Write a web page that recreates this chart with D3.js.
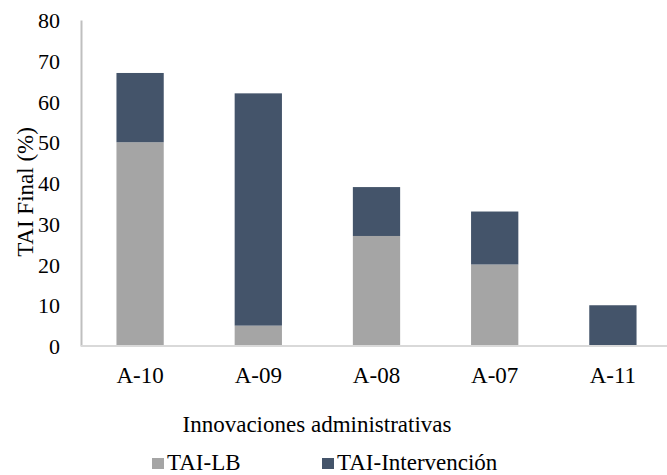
<!DOCTYPE html>
<html>
<head>
<meta charset="utf-8">
<script src="https://cdn.jsdelivr.net/npm/d3@7"></script>
<style>
  body { margin: 0; background: #fff; }
</style>
</head>
<body>
<div id="chart"></div>
<script>
const categories = ["A-10", "A-09", "A-08", "A-07", "A-11"]
const seriesNames = ["TAI-LB", "TAI-Intervención"]
const lbValues = [50, 5, 27, 20, 0]
const intervValues = [17, 57, 12, 13, 10]
const yTicks = [0, 10, 20, 30, 40, 50, 60, 70, 80]
const colors = ["#a5a5a5", "#44546a"]

const width = 667, height = 475
const plotLeft = 81, plotTop = 20, plotBottom = 346
const fontName = "Liberation Serif"

const svg = d3.select("#chart")
    .append("svg")
    .attr("width", width)
    .attr("height", height)

let xScale = d3.scaleBand()
    .domain(categories)
    .range([plotLeft, plotLeft + 5 * 118.2])
    .paddingInner(0.6)
    .paddingOuter(0.3)

let yScale = d3.scaleLinear()
    .domain([0, 80])
    .range([plotBottom, plotTop])

// stack the two series
const rows = categories.map((c, i) => ({cat: c, "TAI-LB": lbValues[i], "TAI-Intervención": intervValues[i]}))
const stacked = d3.stack().keys(seriesNames)(rows)

svg.selectAll("g.series")
    .data(stacked)
    .enter()
    .append("g")
    .attr("fill", (d, i) => colors[i])
    .selectAll("rect")
    .data(d => d)
    .enter()
    .append("rect")
    .attr("x", d => xScale(d.data.cat))
    .attr("y", d => yScale(d[1]))
    .attr("width", xScale.bandwidth())
    .attr("height", d => yScale(d[0]) - yScale(d[1]))

// axes
let yAxis = d3.axisLeft(yScale).tickValues(yTicks).tickSize(0).tickPadding(21)
const gy = svg.append("g").attr("transform", "translate(" + plotLeft + ",0)").call(yAxis)
gy.select(".domain").attr("stroke", "#bfbfbf").attr("stroke-width", 2)
gy.selectAll("text").attr("dy", "0.35em").attr("fill", "#000")

let xAxis = d3.axisBottom(xScale).tickSize(0).tickPadding(21)
const gx = svg.append("g").attr("transform", "translate(0," + plotBottom + ")").call(xAxis)
gx.select(".domain").remove()
gx.append("line")
    .attr("x1", plotLeft).attr("x2", width)
    .attr("y1", 0).attr("y2", 0)
    .attr("stroke", "#d9d9d9").attr("stroke-width", 2)
gx.selectAll("text").attr("fill", "#000")

// axis titles
svg.append("text")
    .attr("x", 317).attr("y", 432)
    .attr("text-anchor", "middle")
    .text("Innovaciones administrativas")

svg.append("text")
    .attr("transform", "translate(33,192) rotate(-90)")
    .attr("text-anchor", "middle")
    .text("TAI Final (%)")

// legend
const legendX = [152, 322]
const legend = svg.selectAll("g.legend")
    .data(seriesNames)
    .enter()
    .append("g")
    .attr("transform", (d, i) => "translate(" + legendX[i] + ",458)")
legend.append("rect")
    .attr("width", 12).attr("height", 11)
    .attr("fill", (d, i) => colors[i])
legend.append("text")
    .attr("x", 15).attr("y", 12)
    .text(d => d)

// one font for every text
svg.selectAll("text")
    .style("font-family", fontName)
    .style("font-size", "23px")
gy.selectAll("text").style("font-size", "22px")
</script>
</body>
</html>
